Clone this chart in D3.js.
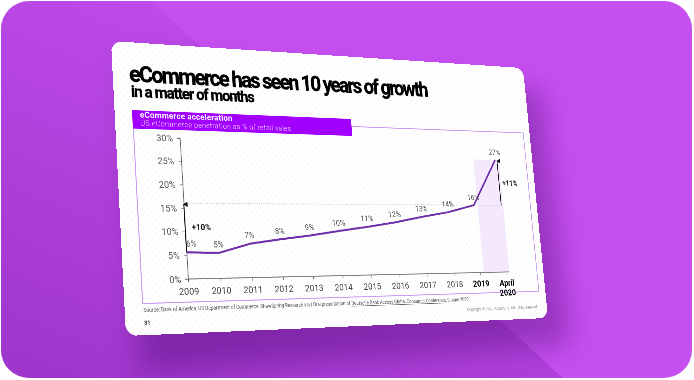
<!DOCTYPE html>
<html>
<head>
<meta charset="utf-8">
<script src="https://cdn.jsdelivr.net/npm/d3@7"></script>
<style>
body { margin: 0; width: 694px; height: 380px; overflow: hidden; background: #fff; position: relative; }
#bg { position: absolute; left: 0; top: 0; }
#slide { position: absolute; left: 0; top: 0; width: 1000px; height: 563px; transform-origin: 0 0; }
text { font-family: Roboto, "Liberation Sans", sans-serif; }
</style>
</head>
<body>
<svg id="bg" width="694" height="380"></svg>
<div id="slide"></div>
<script>

// chart data
var years = ["2009", "2010", "2011", "2012", "2013", "2014", "2015", "2016", "2017", "2018", "2019", "April 2020"];
var share = [5.6, 5.4, 7.3, 8.2, 9.0, 10.0, 10.9, 11.9, 13.2, 14.3, 16, 27];
var shareLabels = ["6%", "5%", "7%", "8%", "9%", "10%", "11%", "12%", "13%", "14%", "16%", "27%"];
var yTicks = [0, 5, 10, 15, 20, 25, 30];

var W = 1000, H = 563;
// where the slide corners land on screen
var corners = [[111, 41], [523, 68], [548, 318], [126, 336]];

function homography(src, dst) {
  var A = [], b = [];
  src.forEach(function(p, i) {
    var x = p[0], y = p[1], u = dst[i][0], v = dst[i][1];
    A.push([x, y, 1, 0, 0, 0, -u * x, -u * y]); b.push(u);
    A.push([0, 0, 0, x, y, 1, -v * x, -v * y]); b.push(v);
  });
  var n = 8;
  for (var c = 0; c < n; c++) {
    var p = c;
    for (var r = c + 1; r < n; r++) if (Math.abs(A[r][c]) > Math.abs(A[p][c])) p = r;
    var t = A[c]; A[c] = A[p]; A[p] = t; t = b[c]; b[c] = b[p]; b[p] = t;
    for (var r2 = c + 1; r2 < n; r2++) {
      var f = A[r2][c] / A[c][c];
      for (var k = c; k < n; k++) A[r2][k] -= f * A[c][k];
      b[r2] -= f * b[c];
    }
  }
  var h = new Array(n);
  for (var r3 = n - 1; r3 >= 0; r3--) {
    var s = b[r3];
    for (var k2 = r3 + 1; k2 < n; k2++) s -= A[r3][k2] * h[k2];
    h[r3] = s / A[r3][r3];
  }
  return h;
}

// ---- background ----
var bg = d3.select("#bg");
var defs = bg.append("defs");
var grad = defs.append("linearGradient").attr("id", "dark")
    .attr("x1", 0.7).attr("y1", 0).attr("x2", 0.1).attr("y2", 1);
grad.append("stop").attr("offset", 0).attr("stop-color", "#5a0a8a").attr("stop-opacity", 0);
grad.append("stop").attr("offset", 1).attr("stop-color", "#5a0a8a").attr("stop-opacity", 0.36);
defs.append("filter").attr("id", "blur").attr("x", -0.3).attr("y", -0.3).attr("width", 1.6).attr("height", 1.6)
  .append("feGaussianBlur").attr("stdDeviation", 14);
defs.append("clipPath").attr("id", "card")
  .append("rect").attr("x", 1).attr("y", 1).attr("width", 691).attr("height", 377).attr("rx", 28);

var bgg = bg.append("g").attr("clip-path", "url(#card)");
bgg.append("rect").attr("width", 694).attr("height", 380).attr("fill", "#c64ff0");
bgg.append("path").attr("d", "M150,0L565,380L0,380L0,0Z").attr("fill", "url(#dark)");
bgg.append("path")
    .attr("d", "M" + [[126, 60], [540, 90], [570, 345], [140, 372]].join("L") + "Z")
    .attr("fill", "#3a0060").attr("opacity", 0.35).attr("filter", "url(#blur)");

// ---- slide (drawn flat, then put in perspective) ----
var h = homography([[0, 0], [W, 0], [W, H], [0, H]], corners);
d3.select("#slide").style("transform", "matrix3d(" +
  [h[0], h[3], 0, h[6], h[1], h[4], 0, h[7], 0, 0, 1, 0, h[2], h[5], 0, 1].join(",") + ")");

var svg = d3.select("#slide").append("svg").attr("width", W).attr("height", H);
var sd = svg.append("defs");
var hatch = sd.append("pattern").attr("id", "hatch").attr("width", 9).attr("height", 9)
    .attr("patternUnits", "userSpaceOnUse").attr("patternTransform", "rotate(45)");
hatch.append("rect").attr("width", 9).attr("height", 9).attr("fill", "#fff");
hatch.append("line").attr("x1", 0).attr("y1", 0).attr("x2", 0).attr("y2", 9).attr("stroke", "#f1f1f1").attr("stroke-width", 2);
sd.append("marker").attr("id", "head").attr("viewBox", "0 0 10 10").attr("refX", 5).attr("refY", 2)
    .attr("markerWidth", 10).attr("markerHeight", 12).attr("markerUnits", "userSpaceOnUse").attr("orient", "auto-start-reverse")
  .append("path").attr("d", "M0,10L5,0L10,10Z").attr("fill", "#111");

svg.append("rect").attr("width", W).attr("height", H).attr("rx", 22).attr("fill", "url(#hatch)");

svg.append("text").attr("x", 34).attr("y", 78)
    .attr("font-size", 45).attr("font-weight", 700).attr("letter-spacing", -3.5)
    .attr("fill", "#000").attr("stroke", "#000").attr("stroke-width", 0.8)
    .text("eCommerce has seen 10 years of growth");
svg.append("text").attr("x", 36).attr("y", 108)
    .attr("font-size", 32).attr("font-weight", 700).attr("letter-spacing", -2)
    .attr("fill", "#000").attr("stroke", "#000").attr("stroke-width", 0.6)
    .text("in a matter of months");

// frame + header bar
svg.append("rect").attr("x", 37).attr("y", 150).attr("width", 945).attr("height", 354)
    .attr("fill", "none").attr("stroke", "#c99cf3").attr("stroke-width", 2);
svg.append("rect").attr("x", 36).attr("y", 134).attr("width", 494).attr("height", 36).attr("fill", "#a100ff");
svg.append("text").attr("x", 52).attr("y", 148).attr("font-size", 17).attr("font-weight", 700)
    .attr("letter-spacing", 0.4).attr("fill", "#fff").text("eCommerce acceleration");
svg.append("text").attr("x", 52).attr("y", 164).attr("font-size", 15).attr("font-weight", 300)
    .attr("letter-spacing", 0.6).attr("fill", "#f3e3ff").text("US eCommerce penetration as % of retail sales");

// scales
var x = d3.scalePoint().domain(years).range([134, 896]);
var y = d3.scaleLinear().domain([0, 30]).range([460, 186]);
var last = years[years.length - 1];

svg.append("rect")
    .attr("x", x("2019") + 10).attr("y", y(27))
    .attr("width", x(last) - x("2019")).attr("height", y(0) - y(27))
    .attr("fill", "#f4e8fd");

svg.append("line").attr("x1", x(years[0])).attr("x2", x(last))
    .attr("y1", y(16)).attr("y2", y(16))
    .attr("stroke", "#b8b8b8").attr("stroke-width", 1.5).attr("stroke-dasharray", "2,3");

var ya = svg.append("g").attr("transform", "translate(" + x(years[0]) + ",0)")
    .call(d3.axisLeft(y).tickValues(yTicks).tickSize(6).tickPadding(9).tickFormat(function(d) { return d + "%"; }));
ya.select(".domain").attr("stroke", "#555").attr("stroke-width", 1.5);
ya.selectAll(".tick line").attr("stroke", "#555");
ya.selectAll("text").attr("font-size", 19).attr("fill", "#555").style("font-family", "Roboto");

var xa = svg.append("g").attr("transform", "translate(0," + y(0) + ")")
    .call(d3.axisBottom(x).tickSize(6).tickPadding(8).tickFormat(""));
xa.select(".domain").remove();
xa.selectAll(".tick line").attr("stroke", "#555");
svg.append("line").attr("x1", x(years[0])).attr("x2", x(last) + 10)
    .attr("y1", y(0)).attr("y2", y(0)).attr("stroke", "#555").attr("stroke-width", 1.5);

xa.selectAll(".tick").append("text")
    .attr("y", 30).attr("text-anchor", "middle").attr("font-size", 19)
    .attr("fill", function(d) { return d === "2019" || d === last ? "#000" : "#444"; })
    .attr("font-weight", function(d) { return d === "2019" || d === last ? 700 : 400; })
    .each(function(d) {
      var t = d3.select(this), parts = d.split(" ");
      parts.forEach(function(p, i) { t.append("tspan").attr("x", 0).attr("dy", i ? 21 : 0).text(p); });
    });

// arrows
svg.append("line").attr("x1", x(years[0])).attr("x2", x(years[0]))
    .attr("y1", y(share[0])).attr("y2", y(16) + 2)
    .attr("stroke", "#111").attr("stroke-width", 2).attr("marker-end", "url(#head)");
svg.append("text").attr("x", x(years[0]) + 14).attr("y", y(11) + 6)
    .attr("font-size", 17).attr("font-weight", 700).attr("fill", "#111").text("+10%");
svg.append("line").attr("x1", x(last) + 5).attr("x2", x(last) + 5)
    .attr("y1", y(16)).attr("y2", y(27) + 2)
    .attr("stroke", "#111").attr("stroke-width", 2).attr("marker-end", "url(#head)");
svg.append("text").attr("x", x(last) + 14).attr("y", y(21.5) + 6)
    .attr("font-size", 17).attr("font-weight", 700).attr("fill", "#111").text("+11%");

// line
var pts = years.map(function(d, i) { return [d, share[i], shareLabels[i]]; });
svg.append("path").datum(pts)
    .attr("d", d3.line().x(function(d) { return x(d[0]); }).y(function(d) { return y(d[1]); }))
    .attr("fill", "none").attr("stroke", "#6f2fab").attr("stroke-width", 4).attr("stroke-linejoin", "round");

svg.selectAll(".lab").data(pts).enter().append("text").attr("class", "lab")
    .attr("x", function(d, i) { return x(d[0]) + (i === 0 ? 11 : 0); })
    .attr("y", function(d) { return y(d[1]) - 11; })
    .attr("text-anchor", "middle").attr("font-size", 17).attr("fill", "#555")
    .text(function(d) { return d[2]; });

// footer
var src = svg.append("text").attr("x", 38).attr("y", 520).attr("font-size", 10).attr("fill", "#555");
src.append("tspan").text("Source: Bank of America, US Department of Commerce, ShawSpring Research via | Oral presentation of ");
src.append("tspan").attr("text-decoration", "underline").text("Deutsche Bank Access Global Consumer Conference");
src.append("tspan").text(", 9 June 2020.");
svg.append("text").attr("x", 975).attr("y", 541).attr("text-anchor", "end").attr("font-size", 9)
    .attr("fill", "#888").text("Copyright \u00a9 2020 Accenture. All rights reserved.");
svg.append("text").attr("x", 38).attr("y", 544).attr("font-size", 11).attr("font-weight", 700)
    .attr("fill", "#222").text("31");

</script>
</body>
</html>
